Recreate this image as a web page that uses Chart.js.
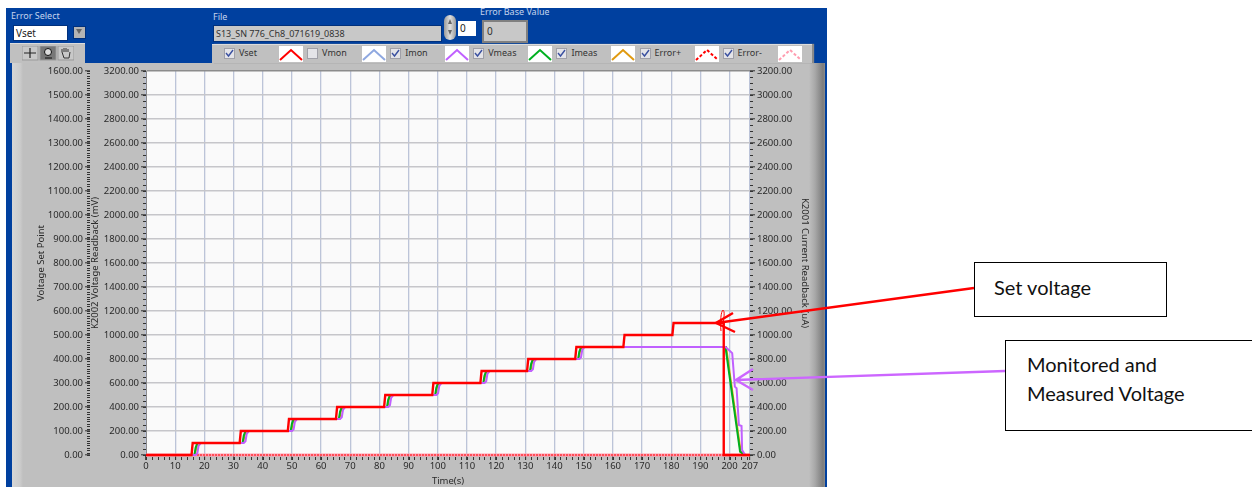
<!DOCTYPE html>
<html>
<head>
<meta charset="utf-8">
<title>Error Select</title>
<script src="https://cdn.jsdelivr.net/npm/chart.js@4/dist/chart.umd.min.js"></script>
<style>
    html, body { margin: 0; padding: 0; background: #fff; width: 1252px; height: 487px; overflow: hidden; }
    body { font-family: "Noto Sans", sans-serif; font-size: 9px; color: #222; }
    div, span, svg, canvas { position: absolute; }
    #panel { left: 6px; top: 8px; width: 821px; height: 479px; background: #00409f; }
    #gray { left: 12px; top: 63px; width: 813px; height: 424px; background: linear-gradient(90deg, #d6d6d6 0, #cccccc 8px, #bfbfbf 11px, #bfbfbf 797px, #a8a8a8 803px, #7c7c7c 811px, #8c8c8c 813px); }
    .lab { color: #c4d4ee; white-space: nowrap; line-height: 11px; }
    .box { box-sizing: border-box; line-height: 13px; padding-left: 2px; white-space: nowrap; }
    #legendBar { left: 212px; top: 44px; width: 600px; height: 19px; background: #c0c0c0; border-top: 1px solid #dcdcdc; box-sizing: border-box; box-shadow: 2px 0 1px #8a8a8a; }
    #tools { left: 10px; top: 43px; width: 75px; height: 20px; background: #c0c0c0; border-top: 1px solid #dcdcdc; box-sizing: border-box; }
    .name { top: 47px; line-height: 12px; white-space: nowrap; color: #333; }
    .swatch { top: 46px; width: 24px; height: 16px; background: #fff; }
    .check { top: 48px; width: 11px; height: 11px; box-sizing: border-box; background: #e4e4e8; border: 1px solid #a0a0a8; }
    #chart { left: 0; top: 0; }
    #overlay { left: 0; top: 0; }
    .note { box-sizing: border-box; border: 1.5px solid #000; background: #fff; font-family: Lato, sans-serif; font-size: 20px; color: #111; }
    .note span { white-space: nowrap; }
</style>
</head>
<body>
<div id="panel"></div>
<div id="gray"></div>

<div class="lab" style="left:11px;top:10px">Error Select</div>
<div class="box" style="left:13px;top:25px;width:55px;height:16px;background:#fff;border:1px solid #00307c;line-height:14px;font-size:10px">Vset</div>
<div style="left:73px;top:26px;width:11px;height:11px;background:#b4b4b4;border:1px solid #00307c"></div>
<svg style="left:76px;top:29px" width="7" height="6"><path d="M0 0H6L3 5Z" fill="#666"/></svg>

<div id="tools"></div>
<svg style="left:22px;top:46px" width="52" height="15">
    <rect x="0" y="0" width="16" height="14" fill="#c8c8c8" stroke="#999"/>
    <path d="M8 2V12M2 7H14" stroke="#222" stroke-width="1.2"/>
    <rect x="18" y="0" width="16" height="14" fill="#777" stroke="#999"/>
    <circle cx="26" cy="6" r="3.5" fill="#ddd" stroke="#111"/>
    <path d="M23 12H30" stroke="#111"/>
    <rect x="36" y="0" width="16" height="14" fill="#c8c8c8" stroke="#999"/>
    <path d="M40 6V3M42 6V2M44 6V2M46 6V3M40 6L42 12H47L48 6" fill="none" stroke="#333"/>
</svg>

<div class="lab" style="left:213px;top:11px">File</div>
<div class="box" style="left:213px;top:25px;width:229px;height:17px;background:#c8c8c8;border:1px solid #00307c;line-height:15px;color:#333">S13_SN 776_Ch8_071619_0838</div>
<div style="left:444px;top:15px;width:12px;height:25px;border-radius:6px;background:linear-gradient(90deg,#9a9a9a,#e0e0e0,#9a9a9a)"></div>
<svg style="left:447px;top:19px" width="6" height="17"><path d="M3 0L5 5H1ZM3 16L5 11H1Z" fill="#666"/></svg>
<div class="box" style="left:458px;top:21px;width:18px;height:15px;background:#fff;line-height:14px;font-size:10px">0</div>
<div class="lab" style="left:480px;top:6px;height:11px;overflow:hidden;clip-path:inset(2px 0 0 0)">Error Base Value</div>
<div class="box" style="left:482px;top:20px;width:46px;height:23px;background:#c8c8c8;border:2px solid #808080;padding-left:3px;line-height:19px;font-size:10px;color:#333">0</div>

<div id="legendBar"></div>
<div id="legend"></div>

<canvas id="chart" width="1252" height="487"></canvas>

<svg id="overlay" width="1252" height="487">
    <path d="M974 288L716 323M733 313L716 323L735 332" fill="none" stroke="#ff0000" stroke-width="2.4"/>
    <path d="M721 331C720 322 721 311 723 310C725 311 724 318 723 324" fill="none" stroke="#ff0000" stroke-width="1"/>
    <path d="M1005 371L736 380M753 369L736 380L753 390" fill="none" stroke="#cc66ff" stroke-width="2.4"/>
</svg>

<div class="note" style="left:974px;top:262px;width:193px;height:55px"><span style="left:19px;top:12px">Set voltage</span></div>
<div class="note" style="left:1005px;top:340px;width:250px;height:91px"><span style="left:21px;top:11px">Monitored and</span><span style="left:21px;top:40px">Measured Voltage</span></div>

<script>
    // Legend rows
    const seriesNames = ["Vset", "Vmon", "Imon", "Vmeas", "Imeas", "Error+", "Error-"];
    const seriesShown = [true, false, true, true, true, true, true];

    // Tick labels
    const xTicks = [0, 10, 20, 30, 40, 50, 60, 70, 80, 90, 100, 110, 120, 130, 140, 150, 160, 170, 180, 190, 200, 207];
    const setPointTicks = [0, 100, 200, 300, 400, 500, 600, 700, 800, 900, 1000, 1100, 1200, 1300, 1400, 1500, 1600];
    const readbackTicks = [0, 200, 400, 600, 800, 1000, 1200, 1400, 1600, 1800, 2000, 2200, 2400, 2600, 2800, 3000, 3200];

    // Vset
    const vsetTime = [0, 15.6, 16, 32.1, 32.5, 48.6, 49, 65.1, 65.5, 81.6, 82, 98.1, 98.5, 114.6, 115, 130.6, 131, 147.1, 147.5, 163.6, 164, 180.4, 180.8, 198, 198, 207];
    const vsetValue = [0, 0, 100, 100, 200, 200, 300, 300, 400, 400, 500, 500, 600, 600, 700, 700, 800, 800, 900, 900, 1000, 1000, 1100, 1100, 0, 0];

    // Imon, the last of the three to climb on each step
    const imonTime = [0, 17, 17.6, 18, 18.8, 33.5, 34.1, 34.5, 35.3, 50, 50.6, 51, 51.8, 66.5, 67.1, 67.5, 68.3, 83, 83.6, 84, 84.8, 99.5, 100.1, 100.5, 101.3, 116, 116.6, 117, 117.8, 132, 132.6, 133, 133.8, 148.5, 149.1, 149.5, 150.3, 198.6, 200.3, 200.9, 201.8, 202.4, 203.2, 204.1, 204.3, 205.1, 205.6];
    const imonValue = [0, 0, 15, 75, 100, 100, 115, 175, 200, 200, 215, 275, 300, 300, 315, 375, 400, 400, 415, 475, 500, 500, 515, 575, 600, 600, 615, 675, 700, 700, 715, 775, 800, 800, 815, 875, 900, 899, 862, 849, 570, 556, 250, 242, 42, 8, 0];

    // Vmeas
    const vmeasTime = [0, 16.6, 17, 17.6, 33.1, 33.5, 34.1, 49.6, 50, 50.6, 66.1, 66.5, 67.1, 82.6, 83, 83.6, 99.1, 99.5, 100.1, 115.6, 116, 116.6, 131.6, 132, 132.6, 148.1, 148.5, 149.1, 198.6, 203.6, 205];
    const vmeasValue = [0, 0, 60, 100, 100, 160, 200, 200, 260, 300, 300, 360, 400, 400, 460, 500, 500, 560, 600, 600, 660, 700, 700, 760, 800, 800, 860, 900, 899, 28, 3];

    // Imeas sits almost exactly under Vmeas
    const imeasTime = [0, 16.8, 17.2, 17.8, 33.3, 33.7, 34.3, 49.8, 50.2, 50.8, 66.3, 66.7, 67.3, 82.8, 83.2, 83.8, 99.3, 99.7, 100.3, 115.8, 116.2, 116.8, 131.8, 132.2, 132.8, 148.3, 148.7, 149.3, 198.8, 203.8, 205.2];
    const imeasValue = [0, 0, 60, 100, 100, 160, 200, 200, 260, 300, 300, 360, 400, 400, 460, 500, 500, 560, 600, 600, 660, 700, 700, 760, 800, 800, 860, 900, 899, 28, 3];

    // Error bands, both on the zero line
    const errorTime = [0, 207];
    const errorPlusValue = [0, 0];
    const errorMinusValue = [0, 0];

    const seriesColors = ["#ff0000", "#8fa8e0", "#c060ff", "#00b020", "#e09a10", "#ff0000", "#ff9db0"];
    const seriesDash = [[], [], [], [], [], [2, 1], [3, 3]];

    function points(time, value) {
        return time.map((t, i) => ({ x: t, y: value[i] }));
    }

    // LabVIEW style plot legend
    const legend = document.getElementById('legend');
    seriesNames.forEach((name, i) => {
        const left = 224 + i * 83.1;
        const tick = seriesShown[i] ? '<path d="M2 5L4.5 8L9 2" fill="none" stroke="#3a50a0" stroke-width="1.4"/>' : '';
        const dash = seriesDash[i].length ? 'stroke-dasharray="3 2"' : '';
        legend.innerHTML +=
            '<div class="check" style="left:' + left + 'px"><svg style="left:-1px;top:-1px" width="11" height="11">' + tick + '</svg></div>' +
            '<div class="name" style="left:' + (left + 15) + 'px">' + name + '</div>' +
            '<div class="swatch" style="left:' + (left + 55) + 'px"><svg width="24" height="16"><path d="M1 14L12 4L23 14" fill="none" stroke="' + seriesColors[i] + '" stroke-width="2" ' + dash + '/></svg></div>';
    });

    // Plot background and the small ticks between the labelled ones
    const plotExtras = {
        id: 'plotExtras',
        beforeDraw(chart) {
            const a = chart.chartArea;
            chart.ctx.fillStyle = '#fafafa';
            chart.ctx.fillRect(a.left, a.top, a.right - a.left, a.bottom - a.top);
        },
        afterDraw(chart) {
            const ctx = chart.ctx;
            ctx.save();
            ctx.strokeStyle = '#333';
            ctx.lineWidth = 1;
            [['yLeftOuter', 10], ['yLeft', 50], ['yRight', 50]].forEach(([id, step]) => {
                const s = chart.scales[id];
                for (let v = s.min; v <= s.max; v += step) {
                    const y = Math.round(s.getPixelForValue(v)) + 0.5;
                    const x = id === 'yRight' ? s.left : s.right - 3;
                    ctx.beginPath();
                    ctx.moveTo(x, y);
                    ctx.lineTo(x + 3, y);
                    ctx.stroke();
                }
            });
            const sx = chart.scales.x;
            for (let v = 0; v <= 206; v += 2) {
                const x = Math.round(sx.getPixelForValue(v)) + 0.5;
                ctx.beginPath();
                ctx.moveTo(x, sx.top + 2);
                ctx.lineTo(x, sx.top + 5);
                ctx.stroke();
            }
            ctx.restore();
        }
    };

    const tickFont = { family: '"Noto Sans"', size: 9.5 };
    const titleFont = { family: '"Noto Sans"', size: 9.5 };

    function yScale(position, max, ticks, width, title, showGrid, tickPadding) {
        return {
            type: 'linear',
            position: position,
            min: 0,
            max: max,
            afterBuildTicks: s => { s.ticks = ticks.map(v => ({ value: v })); },
            afterFit: s => { s.width = width; },
            ticks: {
                color: '#2a2a2a',
                font: tickFont,
                padding: tickPadding,
                autoSkip: false,
                callback: v => v.toFixed(2)
            },
            grid: {
                drawOnChartArea: showGrid,
                color: c => (c.tick && c.tick.value === max ? '#8c8c8c' : '#c6c6ca'),
                lineWidth: 1.6,
                tickColor: '#333',
                tickLength: 5,
                tickWidth: 1
            },
            border: { display: showGrid, color: '#8c8c8c' },
            title: { display: true, text: title, color: '#2a2a2a', font: titleFont, padding: { top: 0, bottom: 0 } }
        };
    }

    const chart = new Chart(document.getElementById('chart'), {
        type: 'line',
        data: {
            datasets: [
                { label: "Vset", data: points(vsetTime, vsetValue), yAxisID: 'yLeft', borderColor: seriesColors[0], borderWidth: 2.4 },
                { label: "Vmon", data: [], yAxisID: 'yLeft', borderColor: seriesColors[1], hidden: true },
                { label: "Imon", data: points(imonTime, imonValue), yAxisID: 'yLeft', borderColor: seriesColors[2], borderWidth: 2 },
                { label: "Vmeas", data: points(vmeasTime, vmeasValue), yAxisID: 'yLeft', borderColor: seriesColors[3], borderWidth: 2 },
                { label: "Imeas", data: points(imeasTime, imeasValue), yAxisID: 'yLeft', borderColor: seriesColors[4], borderWidth: 2 },
                { label: "Error+", data: points(errorTime, errorPlusValue), yAxisID: 'yLeft', borderColor: seriesColors[5], borderWidth: 1, borderDash: seriesDash[5] },
                { label: "Error-", data: points(errorTime, errorMinusValue), yAxisID: 'yLeft', borderColor: seriesColors[6], borderWidth: 3 }
            ]
        },
        options: {
            responsive: false,
            animation: false,
            parsing: false,
            layout: { padding: { left: 36, top: 71, right: 442, bottom: 0 } },
            elements: { point: { radius: 0 }, line: { tension: 0, fill: false } },
            datasets: { line: { clip: 4 } },
            plugins: { legend: { display: false }, tooltip: { enabled: false } },
            scales: {
                x: {
                    type: 'linear',
                    min: 0,
                    max: 207,
                    afterBuildTicks: s => { s.ticks = xTicks.map(v => ({ value: v })); },
                    afterFit: s => { s.height = 32; },
                    ticks: { color: '#2a2a2a', font: tickFont, padding: 1, autoSkip: false, maxRotation: 0 },
                    grid: { color: '#bcc4d8', lineWidth: 1.3, tickColor: '#333', tickLength: 5, tickWidth: 1 },
                    border: { color: '#8c8c8c' },
                    title: { display: true, text: 'Time(s)', color: '#2a2a2a', font: titleFont, padding: { top: 0, bottom: 0 } }
                },
                yLeft: yScale('left', 3200, readbackTicks, 56, 'K2002 Voltage Readback (mV)', true, 2),
                yLeftOuter: yScale('left', 1600, setPointTicks, 54, 'Voltage Set Point', false, 2),
                yRight: yScale('right', 3200, readbackTicks, 60, 'K2001 Current Readback (uA)', false, 2)
            }
        },
        plugins: [plotExtras]
    });
</script>
</body>
</html>
